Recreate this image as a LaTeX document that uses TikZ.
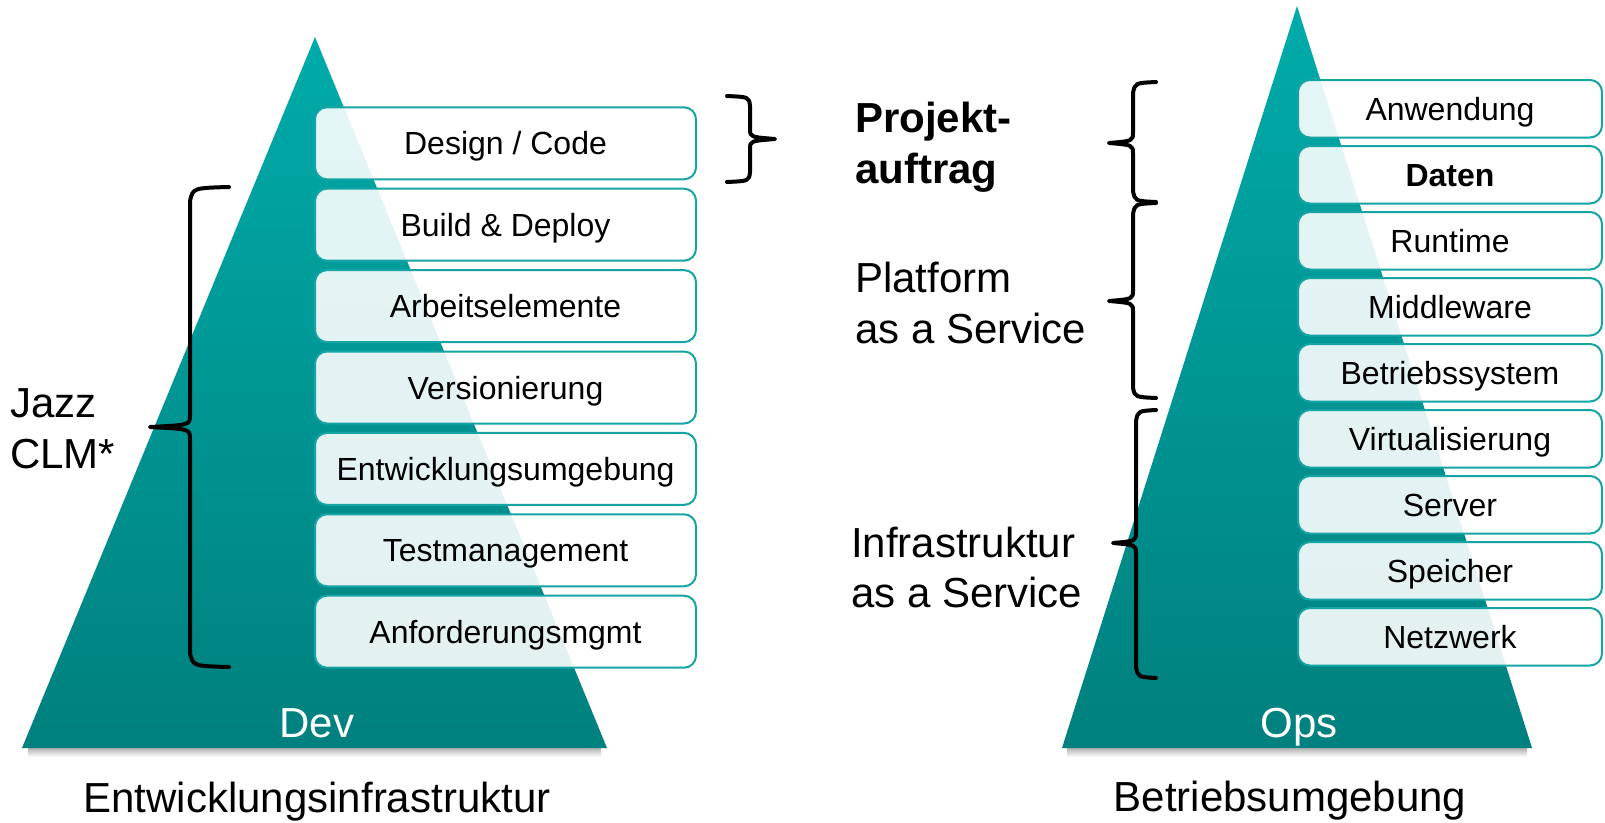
\documentclass[tikz,border=0pt]{standalone}
\usepackage{fontspec}
\setmainfont{Liberation Sans}
\definecolor{tealtop}{RGB}{0,171,169}
\definecolor{tealbot}{RGB}{0,128,126}
\definecolor{boxline}{RGB}{22,164,164}
\begin{document}
\begin{tikzpicture}[x=1pt,y=-1pt,
  box/.style={draw=boxline, line width=2pt, rounded corners=12pt, fill=white, fill opacity=0.89, text opacity=1,
    font=\fontsize{32}{38}\selectfont, text height=23pt, text depth=0pt, inner sep=0pt},
  lbox/.style={box, minimum width=381pt, minimum height=72pt},
  rbox/.style={box, minimum width=304pt, minimum height=57.5pt},
  big/.style={font=\fontsize{42}{51}\selectfont, inner sep=0pt},
  curly/.style={draw=black, line width=4pt, line cap=round, line join=round}]
\useasboundingbox (0,0) rectangle (1605,822);

% shadows under the bases
\shade[top color=black!30, bottom color=white] (28,748) rectangle (601,757);
\shade[top color=black!30, bottom color=white] (1067,748) rectangle (1527,757);

% pyramids
\shade[top color=tealtop, bottom color=tealbot] (315,37) -- (607,748) -- (22,748) -- cycle;
\shade[top color=tealtop, bottom color=tealbot] (1297,6) -- (1532,748) -- (1062,748) -- cycle;

% left boxes
\node[lbox] (l1) at (505.5,143.3) {Design / Code};
\node[lbox] (l2) at (505.5,224.7) {Build \& Deploy};
\node[lbox] (l3) at (505.5,306.1) {Arbeitselemente};
\node[lbox] (l4) at (505.5,387.5) {Versionierung};
\node[lbox] (l5) at (505.5,468.9) {Entwicklungsumgebung};
\node[lbox] (l6) at (505.5,550.3) {Testmanagement};
\node[lbox] (l7) at (505.5,631.7) {Anforderungsmgmt};

% right boxes
\node[rbox] (r1) at (1450,108.75) {Anwendung};
\node[rbox] (r2) at (1450,174.75) {\bfseries Daten};
\node[rbox] (r3) at (1450,240.75) {Runtime};
\node[rbox] (r4) at (1450,306.75) {Middleware};
\node[rbox] (r5) at (1450,372.75) {Betriebssystem};
\node[rbox] (r6) at (1450,438.75) {Virtualisierung};
\node[rbox] (r7) at (1450,504.75) {Server};
\node[rbox] (r8) at (1450,570.75) {Speicher};
\node[rbox] (r9) at (1450,636.75) {Netzwerk};

% braces
% Jazz CLM* (points left)
\draw[curly] (229,187) .. controls (193,188) .. (190,201) -- (190,415)
  .. controls (190,425) .. (150,427) .. controls (190,429) .. (190,439)
  -- (190,653) .. controls (193,666) .. (229,667);
% Design / Code (points right)
\draw[curly] (727,96) .. controls (749,97) .. (750,106) -- (750,129)
  .. controls (750,137) .. (775,139) .. controls (750,141) .. (750,149)
  -- (750,172) .. controls (749,181) .. (727,182);
% Projektauftrag (points left)
\draw[curly] (1156,82) .. controls (1135,83) .. (1133,93) -- (1133,132)
  .. controls (1133,141) .. (1109,143) .. controls (1133,145) .. (1133,154)
  -- (1133,191) .. controls (1135,201) .. (1156,202);
% Platform as a Service
\draw[curly] (1156,203) .. controls (1135,204) .. (1133,214) -- (1133,290)
  .. controls (1133,299) .. (1109,301) .. controls (1133,303) .. (1133,312)
  -- (1133,388) .. controls (1135,397) .. (1156,398);
% Infrastruktur as a Service
\draw[curly] (1156,410) .. controls (1138,411) .. (1136,421) -- (1136,532)
  .. controls (1136,541) .. (1113,543) .. controls (1136,545) .. (1136,554)
  -- (1136,667) .. controls (1138,677) .. (1156,678);

% labels
\node[big, anchor=base west] (jazz) at (10,417) {Jazz};
\node[big, anchor=base west] (clm) at (10,468) {CLM*};
\node[big, anchor=base west, font=\fontsize{42}{51}\selectfont\bfseries] (proj) at (855,132) {Projekt-};
\node[big, anchor=base west, font=\fontsize{42}{51}\selectfont\bfseries] (auft) at (855,183) {auftrag};
\node[big, anchor=base west] (plat) at (855,292) {Platform};
\node[big, anchor=base west] (paas) at (855,343) {as a Service};
\node[big, anchor=base west] (infra) at (851,557) {Infrastruktur};
\node[big, anchor=base west] (iaas) at (851,607) {as a Service};

\node[big, anchor=base, text=white] (dev) at (317,737) {Dev};
\node[big, anchor=base, text=white] (ops) at (1299,737) {Ops};
\node[big, anchor=base] (entw) at (317,812) {Entwicklungsinfrastruktur};
\node[big, anchor=base] (betr) at (1290,811) {Betriebsumgebung};
\end{tikzpicture}
\end{document}
